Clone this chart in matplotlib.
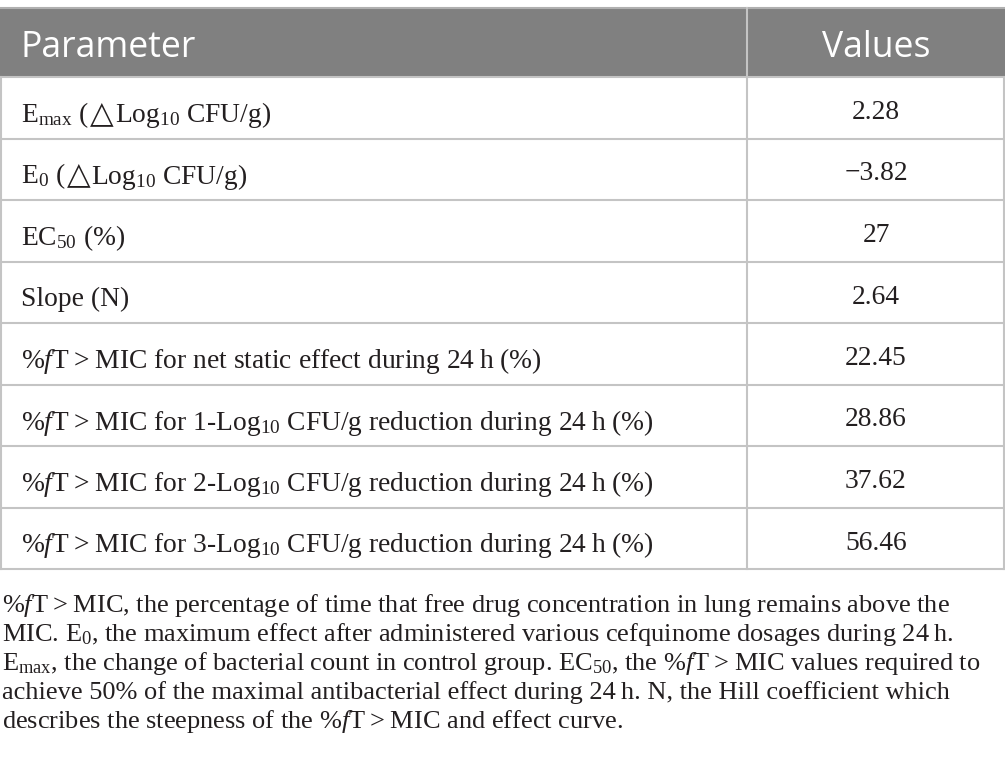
import matplotlib
matplotlib.use('Agg')
import matplotlib.pyplot as plt

plt.rcParams['mathtext.fontset'] = 'custom'
plt.rcParams['mathtext.rm'] = 'Liberation Serif'
plt.rcParams['mathtext.it'] = 'Liberation Serif:italic'
plt.rcParams['mathtext.default'] = 'rm'

TS = '\u2009'
GT = TS + '>' + TS
header = ['Parameter', 'Values']
parameters = [
    r'E$_{\mathrm{max}}$ (△Log$_{\mathrm{10}}$ CFU/g)',
    r'E$_{\mathrm{0}}$ (△Log$_{\mathrm{10}}$ CFU/g)',
    r'EC$_{\mathrm{50}}$ (%)',
    'Slope (N)',
    r'%$\mathit{f}$T' + GT + 'MIC for net static effect during 24' + TS + 'h (%)',
    r'%$\mathit{f}$T' + GT + r'MIC for 1-Log$_{\mathrm{10}}$ CFU/g reduction during 24' + TS + 'h (%)',
    r'%$\mathit{f}$T' + GT + r'MIC for 2-Log$_{\mathrm{10}}$ CFU/g reduction during 24' + TS + 'h (%)',
    r'%$\mathit{f}$T' + GT + r'MIC for 3-Log$_{\mathrm{10}}$ CFU/g reduction during 24' + TS + 'h (%)',
]
values = ['2.28', '−3.82', '27', '2.64', '22.45', '28.86', '37.62', '56.46']
footnote = [
    r'%$\mathit{f}$T' + GT + 'MIC, the percentage of time that free drug concentration in lung remains above the',
    r'MIC. E$_{\mathrm{0}}$, the maximum effect after administered various cefquinome dosages during 24' + TS + 'h.',
    r'E$_{\mathrm{max}}$, the change of bacterial count in control group. EC$_{\mathrm{50}}$, the %$\mathit{f}$T' + GT + 'MIC values required to',
    'achieve 50% of the maximal antibacterial effect during 24' + TS + 'h. N, the Hill coefficient which',
    r'describes the steepness of the %$\mathit{f}$T' + GT + 'MIC and effect curve.',
]

W, H = 1005, 776
fig = plt.figure(figsize=(W / 100, H / 100), dpi=100)
ax = fig.add_axes([0, 0, 1, 1])
ax.set_xlim(0, W)
ax.set_ylim(H, 0)
ax.axis('off')
renderer = fig.canvas.get_renderer()

serif = ['Liberation Serif', 'DejaVu Serif', 'DejaVu Sans']
line_c = '#c4c4c4'
head_c = '#808080'
txt_c = '#231f20'

top, head_bot = 8, 77
row_h = 61.5
col_x = 747
val_cx = 876
n = len(parameters)
table_bot = head_bot + n * row_h

# header band
ax.add_patch(plt.Rectangle((0, top), W, head_bot - top, facecolor=head_c, edgecolor='none', zorder=1))
ax.plot([0, W], [top, top], color='#b0b0b0', lw=1.5, zorder=2)
ax.text(21, 57, header[0], family='Open Sans', fontsize=25.6, color='white', va='baseline', ha='left', zorder=3)
ax.text(val_cx, 57, header[1], family='Open Sans', fontsize=25.6, color='white', va='baseline', ha='center', zorder=3)

# grid lines
for i in range(n + 1):
    y = head_bot + i * row_h
    ax.plot([0, W], [y, y], color=line_c, lw=1.5, zorder=2)
ax.plot([col_x, col_x], [top, table_bot], color=line_c, lw=1.5, zorder=2)
ax.plot([0.7, 0.7], [head_bot, table_bot], color=line_c, lw=1.5, zorder=2)
ax.plot([W - 0.7, W - 0.7], [head_bot, table_bot], color=line_c, lw=1.5, zorder=2)


def draw_label(x, y, s, size):
    """Draw a label; the triangle sign is set in DejaVu Sans between serif pieces."""
    parts = s.split('△')
    for k, part in enumerate(parts):
        if k > 0:
            x += 1
            t = ax.text(x, y, '△', family='DejaVu Sans', fontsize=size * 1.12, color=txt_c,
                        va='baseline', ha='left', zorder=3)
            x += t.get_window_extent(renderer).width + 1
        if part:
            t = ax.text(x, y, part, family=serif, fontsize=size, color=txt_c,
                        va='baseline', ha='left', zorder=3)
            x += t.get_window_extent(renderer).width


fs_body = 19.8
fs_note = 19.0
for i, (p, v) in enumerate(zip(parameters, values)):
    y0 = head_bot + i * row_h
    draw_label(21, y0 + 45, p, fs_body)
    ax.text(val_cx, y0 + 42, v, family=serif, fontsize=fs_body, color=txt_c, va='baseline', ha='center', zorder=3)

for i, line in enumerate(footnote):
    ax.text(2, 612 + i * 28.9, line, family=serif, fontsize=fs_note, color=txt_c, va='baseline', ha='left', zorder=3)

fig.savefig('out.png', dpi=100)
